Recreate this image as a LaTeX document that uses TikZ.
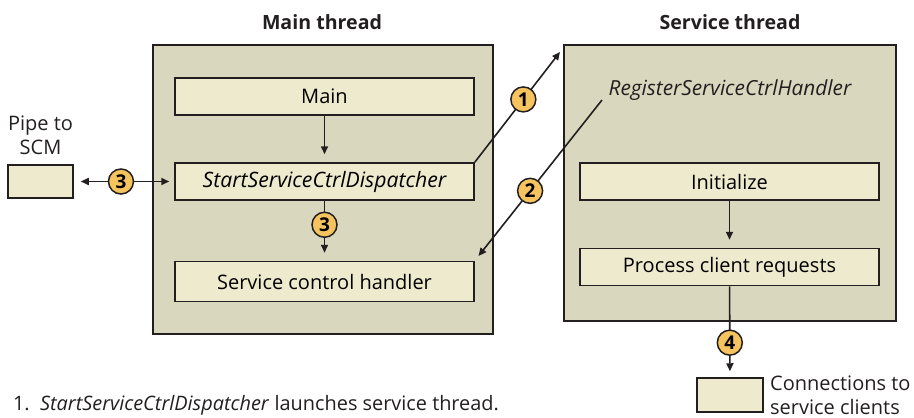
\documentclass[tikz,border=0pt]{standalone}
\usepackage{fontspec}
\setmainfont{Open Sans}
\usetikzlibrary{arrows.meta,positioning}
\definecolor{Panel}{HTML}{D9D7BE}
\definecolor{Slot}{HTML}{EEEACD}
\definecolor{Badge}{HTML}{F6C45E}
\definecolor{Ink}{HTML}{231F20}

\tikzset{
  thread/.style={draw=Ink,line width=0.8pt,fill=Panel,inner sep=0pt},
  stepbox/.style={draw=Ink,line width=0.75pt,fill=Slot,minimum width=149.5pt,
    minimum height=18.5pt,inner sep=0pt,font=\fontsize{10}{12}\selectfont},
  endbox/.style={draw=Ink,line width=0.75pt,fill=Slot,inner sep=0pt},
  badge/.style={circle,draw=Ink,line width=0.75pt,fill=Badge,minimum size=12.5pt,
    inner sep=0pt,font=\bfseries\fontsize{9.5}{9.5}\selectfont},
  flow/.style={draw=Ink,line width=0.8pt,shorten >=4pt,
    -{Triangle[length=4pt,width=3.5pt]}},
  label/.style={text=Ink,font=\fontsize{10}{12}\selectfont},
  title/.style={text=Ink,font=\bfseries\fontsize{9.8}{11}\selectfont}
}

\begin{document}
\begin{tikzpicture}[x=0.5pt,y=-0.5pt]
  \useasboundingbox (0,0) rectangle (914,417);

  % thread panels
  \node[thread,minimum width=170pt,minimum height=144.5pt] (mainthr) at (323,189.5) {};
  \node[thread,minimum width=166pt,minimum height=138pt] (svcthr) at (730,183) {};
  \node[title] at (322,22) {Main thread};
  \node[title] at (730,22) {Service thread};

  % main thread
  \node[stepbox] (main) at (324.5,96.5) {Main};
  \node[stepbox] (start) at (324.5,181.5) {\itshape\fontsize{10.6}{12}\selectfont StartServiceCtrlDispatcher};
  \node[stepbox,minimum height=20pt] (handler) at (324.5,281.5) {Service control handler};

  % service thread
  \node[label,font=\itshape\fontsize{10.4}{12}\selectfont] (reg) at (730,90) {RegisterServiceCtrlHandler};
  \node[stepbox] (init) at (729.5,181.5) {Initialize};
  \node[stepbox] (proc) at (729.5,267) {Process client requests};

  % outside ends
  \node[endbox,minimum width=32.5pt,minimum height=16.5pt] (pipe) at (40.5,181.5) {};
  \node[label,align=center,above=1pt of pipe] {Pipe to\\SCM};
  \node[endbox,minimum width=33pt,minimum height=17pt] (conn) at (730,395) {};
  \node[label,align=left,anchor=west,inner sep=1pt,right=2pt of conn] {Connections to\\service clients};
  \coordinate (spawn) at (560,52);
  \coordinate (regfoot) at (602,100);

  % connectors
  \draw[flow] (main) -- (start);
  \draw[flow] (start) -- node[badge,pos=0.4] {3} (handler);
  \draw[flow,shorten <=3.5pt,shorten >=2.5pt,{Triangle[length=4pt,width=3.5pt]}-{Triangle[length=4pt,width=3.5pt]}]
    (pipe) -- node[badge,pos=0.47] {3} (start);
  \draw[flow,shorten >=0pt] (start.north east) -- node[badge,pos=0.57] {1} (spawn);
  \draw[flow,shorten >=3pt] (regfoot) -- node[badge,pos=0.565] {2} (handler.north east);
  \draw[flow] (init) -- (proc);
  \draw[flow,shorten >=3pt] (proc) -- node[badge,pos=0.62] {4} (conn);

  \node[label,anchor=west,font=\fontsize{9.95}{12}\selectfont] at (6,405) {1.\ \ \textit{StartServiceCtrlDispatcher} launches service thread.};
\end{tikzpicture}
\end{document}
